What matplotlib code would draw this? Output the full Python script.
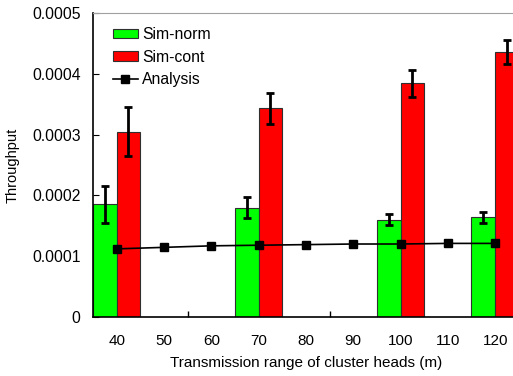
import matplotlib.pyplot as plt
import numpy as np

plt.rcParams['font.family'] = ['Liberation Sans', 'DejaVu Sans']

# data
ranges = [40, 50, 60, 70, 80, 90, 100, 110, 120]
analysis = [0.000112, 0.0001145, 0.000117, 0.000118, 0.000119, 0.00012, 0.00012, 0.000121, 0.000121]

bar_x = [40, 70, 100, 120]
sim_norm = [0.000185, 0.00018, 0.00016, 0.000164]
sim_norm_err = [0.00003, 0.000017, 0.000009, 0.000009]
sim_cont = [0.000305, 0.000343, 0.000384, 0.000436]
sim_cont_err = [0.00004, 0.000025, 0.000022, 0.00002]


def main():
    fig = plt.figure(figsize=(5.13, 3.76), dpi=100)
    ax = fig.add_axes([0.1813, 0.157, 0.830, 0.8085])

    bx = np.array(bar_x)
    w = 5
    err_kw = dict(ecolor='black', elinewidth=2, capsize=2.7, capthick=2)
    ax.bar(bx - w / 2, sim_norm, w, yerr=sim_norm_err, color='#00ff00',
           edgecolor='#303030', linewidth=0.8, label='Sim-norm', error_kw=err_kw, zorder=2)
    ax.bar(bx + w / 2, sim_cont, w, yerr=sim_cont_err, color='#ff0000',
           edgecolor='#303030', linewidth=0.8, label='Sim-cont', error_kw=err_kw, zorder=2)
    ax.plot(ranges, analysis, color='black', linewidth=1.2, marker='s',
            markersize=5.3, label='Analysis', zorder=3)

    ax.set_xlim(35, 125)
    ax.set_ylim(0, 0.0005)
    ax.set_xticks(ranges)
    ax.set_xticks([55, 85], minor=True)
    ax.tick_params(axis='x', which='major', length=0, pad=12, labelsize=11)
    ax.tick_params(axis='x', which='minor', direction='in', length=4, width=1)
    ax.set_yticks([0, 0.0001, 0.0002, 0.0003, 0.0004, 0.0005])
    ax.set_yticklabels(['0', '0.0001', '0.0002', '0.0003', '0.0004', '0.0005'])
    ax.tick_params(axis='y', direction='in', length=4, pad=9, labelsize=11.3)

    ax.spines['top'].set_color('#a0a0a0')
    ax.spines['right'].set_visible(False)
    ax.spines['left'].set_linewidth(1.2)
    ax.spines['bottom'].set_linewidth(1.2)

    ax.set_xlabel('Transmission range of cluster heads (m)', fontsize=11, labelpad=6)
    ax.set_ylabel('Throughput', fontsize=10.5, labelpad=9)

    handles, labels = ax.get_legend_handles_labels()
    order = [1, 2, 0]
    ax.legend([handles[i] for i in order], [labels[i] for i in order],
              loc='upper left', bbox_to_anchor=(0.033, 0.974), borderaxespad=0,
              frameon=False, fontsize=11.3, handlelength=1.55, handleheight=0.55,
              labelspacing=0.47, handletextpad=0.3)

    fig.savefig('out.png', dpi=100)


if __name__ == '__main__':
    main()
